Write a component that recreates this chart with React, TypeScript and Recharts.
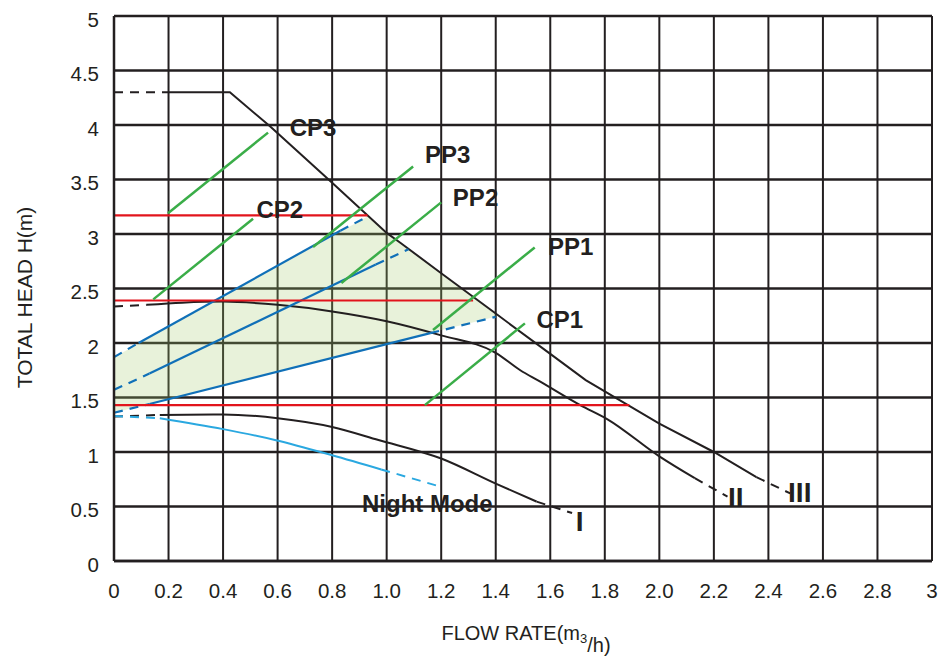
import React from 'react';
import {
  ComposedChart,
  Line,
  Area,
  Scatter,
  XAxis,
  YAxis,
  CartesianGrid,
} from 'recharts';

type Pt = [number, number];

const INK = '#231f20';
const BLUE = '#1070b8';
const SKY = '#2aa8e0';
const RED = '#e2141c';
const GREEN = '#3aad48';
const FONT = "'Liberation Sans', Arial, Helvetica, sans-serif";

const flowTicks = [0, 0.2, 0.4, 0.6, 0.8, 1.0, 1.2, 1.4, 1.6, 1.8, 2.0, 2.2, 2.4, 2.6, 2.8, 3];
const headTicks = [0, 0.5, 1, 1.5, 2, 2.5, 3, 3.5, 4, 4.5, 5];

// speed III (max curve)
const curve3Start: Pt[] = [[0, 4.3], [0.2, 4.3]];
const curve3: Pt[] = [
  [0.2, 4.3], [0.425, 4.3], [0.571, 3.99], [0.8, 3.47], [1.0, 3.01], [1.05, 2.92],
  [1.2, 2.64], [1.4, 2.27], [1.6, 1.9], [1.73, 1.66], [2.0, 1.26], [2.2, 1.0], [2.356, 0.77],
];
const curve3End: Pt[] = [[2.356, 0.77], [2.48, 0.62]];

// speed II
const curve2Start: Pt[] = [[0, 2.335], [0.12, 2.35]];
const curve2: Pt[] = [
  [0.12, 2.35], [0.25, 2.37], [0.4, 2.38], [0.6, 2.35], [0.8, 2.29], [1.0, 2.2],
  [1.2, 2.07], [1.4, 1.91], [1.49, 1.75], [1.56, 1.65], [1.71, 1.43], [1.81, 1.3],
  [2.0, 0.96], [2.13, 0.76],
];
const curve2End: Pt[] = [[2.13, 0.76], [2.25, 0.59]];

// speed I
const curve1Start: Pt[] = [[0, 1.325], [0.168, 1.34]];
const curve1: Pt[] = [
  [0.168, 1.34], [0.4, 1.345], [0.6, 1.31], [0.8, 1.23], [0.97, 1.11], [1.2, 0.94],
  [1.4, 0.71], [1.55, 0.545],
];
const curve1End: Pt[] = [[1.55, 0.545], [1.68, 0.44]];

// night mode
const nightStart: Pt[] = [[0, 1.33], [0.168, 1.31]];
const night: Pt[] = [[0.168, 1.31], [0.4, 1.21], [0.59, 1.11], [0.8, 0.97], [0.98, 0.84]];
const nightEnd: Pt[] = [[0.98, 0.84], [1.2, 0.68]];

// proportional pressure lines (blue)
const pp3Start: Pt[] = [[0, 1.87], [0.09, 2.0]];
const pp3Line: Pt[] = [[0.09, 2.0], [0.83, 3.03]];
const pp3End: Pt[] = [[0.83, 3.03], [0.93, 3.16]];
const pp2Start: Pt[] = [[0, 1.57], [0.13, 1.72]];
const pp2Line: Pt[] = [[0.13, 1.72], [0.96, 2.72]];
const pp2End: Pt[] = [[0.96, 2.72], [1.08, 2.86]];
const pp1Start: Pt[] = [[0, 1.36], [0.13, 1.44]];
const pp1Line: Pt[] = [[0.13, 1.44], [1.16, 2.09]];
const pp1End: Pt[] = [[1.16, 2.09], [1.4, 2.24]];

// constant pressure lines (red)
const cp3Level: Pt[] = [[0, 3.17], [0.93, 3.17]];
const cp2Level: Pt[] = [[0, 2.39], [1.317, 2.39]];
const cp1Level: Pt[] = [[0, 1.43], [1.89, 1.43]];

// green leader lines
const cp3Mark: Pt[] = [[0.198, 3.19], [0.565, 3.93]];
const cp2Mark: Pt[] = [[0.144, 2.4], [0.51, 3.14]];
const cp1Mark: Pt[] = [[1.14, 1.43], [1.507, 2.18]];
const pp3Mark: Pt[] = [[0.73, 2.88], [1.097, 3.62]];
const pp2Mark: Pt[] = [[0.834, 2.55], [1.2, 3.29]];
const pp1Mark: Pt[] = [[1.17, 2.12], [1.543, 2.877]];

// shaded working range: [low, high]
const shadeX = [0, 0.93, 1.0, 1.12, 1.2, 1.3, 1.4];
const shadeLow = [1.36, 1.95, 1.99, 2.07, 2.12, 2.18, 2.24];
const shadeHigh = [1.87, 3.16, 3.01, 2.79, 2.64, 2.45, 2.27];

const tags = [
  { x: 0.73, y: 3.976, text: 'CP3' },
  { x: 0.608, y: 3.223, text: 'CP2' },
  { x: 1.224, y: 3.728, text: 'PP3' },
  { x: 1.326, y: 3.333, text: 'PP2' },
  { x: 1.675, y: 2.888, text: 'PP1' },
  { x: 1.635, y: 2.213, text: 'CP1' },
  { x: 1.149, y: 0.523, text: 'Night Mode' },
];
const speedTags = [
  { x: 1.708, y: 0.358, text: 'I' },
  { x: 2.28, y: 0.579, text: 'II' },
  { x: 2.515, y: 0.624, text: 'III' },
];

const toObj = (pts: Pt[]) => pts.map(([x, y]) => ({ x, y }));
const shadeData = shadeX.map((x, i) => ({ x, range: [shadeLow[i], shadeHigh[i]] }));

const series = [
  { pts: curve3Start, color: INK, w: 2, dash: true },
  { pts: curve3, color: INK, w: 2, dash: false },
  { pts: curve3End, color: INK, w: 2, dash: true },
  { pts: curve2Start, color: INK, w: 2, dash: true },
  { pts: curve2, color: INK, w: 2, dash: false, smooth: true },
  { pts: curve2End, color: INK, w: 2, dash: true },
  { pts: curve1Start, color: INK, w: 2, dash: true },
  { pts: curve1, color: INK, w: 2, dash: false, smooth: true },
  { pts: curve1End, color: INK, w: 2, dash: true },
  { pts: nightStart, color: SKY, w: 2, dash: true },
  { pts: night, color: SKY, w: 2, dash: false, smooth: true },
  { pts: nightEnd, color: SKY, w: 2, dash: true },
  { pts: pp3Start, color: BLUE, w: 2.2, dash: true },
  { pts: pp3Line, color: BLUE, w: 2.2, dash: false },
  { pts: pp3End, color: BLUE, w: 2.2, dash: true },
  { pts: pp2Start, color: BLUE, w: 2.2, dash: true },
  { pts: pp2Line, color: BLUE, w: 2.2, dash: false },
  { pts: pp2End, color: BLUE, w: 2.2, dash: true },
  { pts: pp1Start, color: BLUE, w: 2.2, dash: true },
  { pts: pp1Line, color: BLUE, w: 2.2, dash: false },
  { pts: pp1End, color: BLUE, w: 2.2, dash: true },
  { pts: cp3Level, color: RED, w: 2.2, dash: false },
  { pts: cp2Level, color: RED, w: 2.2, dash: false },
  { pts: cp1Level, color: RED, w: 2.2, dash: false },
  { pts: cp3Mark, color: GREEN, w: 2.5, dash: false },
  { pts: cp2Mark, color: GREEN, w: 2.5, dash: false },
  { pts: cp1Mark, color: GREEN, w: 2.5, dash: false },
  { pts: pp3Mark, color: GREEN, w: 2.5, dash: false },
  { pts: pp2Mark, color: GREEN, w: 2.5, dash: false },
  { pts: pp1Mark, color: GREEN, w: 2.5, dash: false },
];

const FlowTick = (props: any) => {
  const { x, y, payload } = props;
  const v = payload.value;
  const label = v === 0 || v === 3 ? String(v) : v.toFixed(1);
  return (
    <text x={x} y={y} dy={37} textAnchor="middle" fontSize={20.5} fill={INK} fontFamily={FONT}>
      {label}
    </text>
  );
};

const HeadTick = (props: any) => {
  const { x, y, payload } = props;
  return (
    <text x={x} y={y} dx={-15} dy={3} textAnchor="end" dominantBaseline="central" fontSize={20.5} fill={INK} fontFamily={FONT}>
      {String(payload.value)}
    </text>
  );
};

const FlowTitle = (props: any) => {
  const vb = props.viewBox;
  return (
    <text x={vb.x + vb.width / 2 + 3} y={vb.y + 79} textAnchor="middle" fontSize={20} fill={INK} fontFamily={FONT}>
      FLOW RATE(m
      <tspan fontSize={13} dy={3}>3</tspan>
      <tspan fontSize={20} dy={9}>/h)</tspan>
    </text>
  );
};

const HeadTitle = (props: any) => {
  const vb = props.viewBox;
  const cy = vb.y + vb.height / 2 + 9;
  return (
    <text x={24} y={cy} transform={`rotate(-90, 24, ${cy})`} textAnchor="middle" dominantBaseline="central" fontSize={21} fill={INK} fontFamily={FONT}>
      TOTAL HEAD H(m)
    </text>
  );
};

const Tag = (props: any) => {
  const { cx, cy, payload } = props;
  return (
    <text x={cx} y={cy} textAnchor="middle" dominantBaseline="central" fontSize={24} fontWeight="bold" fill={INK} fontFamily={FONT}>
      {payload.text}
    </text>
  );
};

const SpeedTag = (props: any) => {
  const { cx, cy, payload } = props;
  return (
    <text x={cx} y={cy} textAnchor="middle" dominantBaseline="central" fontSize={28} fontWeight="bold" fill={INK} fontFamily="'Liberation Sans Narrow', 'Liberation Sans', Arial, sans-serif">
      {payload.text}
    </text>
  );
};

export default function App() {
  return (
    <div style={{ position: 'absolute', left: 0, top: 0, width: 942, height: 659, background: '#fff' }}>
      <ComposedChart
        width={942}
        height={659}
        data={shadeData}
        margin={{ top: 16, right: 10, bottom: 0, left: 0 }}
      >
        <CartesianGrid vertical={false} stroke={INK} strokeWidth={2.5} />
        <CartesianGrid horizontal={false} stroke={INK} strokeWidth={2} />
        <XAxis
          type="number"
          dataKey="x"
          domain={[0, 3]}
          ticks={flowTicks}
          interval={0}
          height={98}
          tickSize={0}
          tickMargin={0}
          tickLine={false}
          axisLine={{ stroke: INK, strokeWidth: 2.5 }}
          tick={<FlowTick />}
          label={(p: any) => <FlowTitle {...p} />}
        />
        <YAxis
          type="number"
          domain={[0, 5]}
          ticks={headTicks}
          interval={0}
          width={114}
          tickSize={0}
          tickMargin={0}
          tickLine={false}
          axisLine={{ stroke: INK, strokeWidth: 2.5 }}
          tick={<HeadTick />}
          label={(p: any) => <HeadTitle {...p} />}
        />
        <Area
          dataKey="range"
          type="linear"
          stroke="none"
          fill="#a3cb6b"
          fillOpacity={0.25}
          isAnimationActive={false}
        />
        {series.map((s, i) => (
          <Line
            key={i}
            data={toObj(s.pts)}
            dataKey="y"
            type={s.smooth ? 'monotone' : 'linear'}
            stroke={s.color}
            strokeWidth={s.w}
            strokeDasharray={s.dash ? '9 7' : undefined}
            dot={false}
            activeDot={false}
            isAnimationActive={false}
          />
        ))}
        <Scatter data={tags} dataKey="y" shape={Tag} isAnimationActive={false} />
        <Scatter data={speedTags} dataKey="y" shape={SpeedTag} isAnimationActive={false} />
      </ComposedChart>
    </div>
  );
}
